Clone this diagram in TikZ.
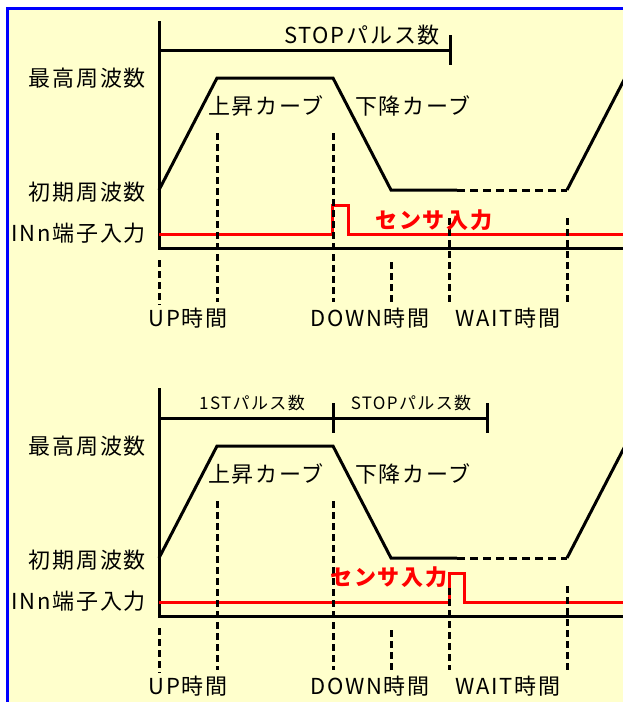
\documentclass[tikz,border=0pt]{standalone}
\usepackage{fontspec}
\setmainfont[LetterSpace=8]{Noto Sans CJK JP}
\definecolor{bgyellow}{HTML}{FFFFCC}
\begin{document}
\begin{tikzpicture}[x=1pt,y=-1pt,
  lbl/.style={font=\fontsize{22}{25}\selectfont, inner sep=0pt},
  small/.style={font=\fontsize{17}{20}\selectfont, inner sep=0pt},
  sens/.style={font=\fontsize{22}{25}\selectfont\bfseries, text=red, inner sep=0pt},
  wave/.style={line width=3pt, line join=miter},
  axisline/.style={line width=3pt, line join=miter},
  guide/.style={line width=3pt, dash pattern=on 7pt off 4pt},
  flatdash/.style={line width=3pt, dash pattern=on 8pt off 5pt},
  sig/.style={line width=3pt, red, line join=miter},
]
\path[use as bounding box] (0,0) rectangle (623,702);
\clip (0,0) rectangle (623,702);
\fill[bgyellow] (7,8.5) rectangle (640,720);
\draw[blue, line width=3pt] (7,720) -- (7,8.5) -- (640,8.5);

% ---------- top diagram ----------
\begin{scope}
  \coordinate (ta0) at (159,190);
  \coordinate (ta1) at (217,78);
  \coordinate (ta2) at (333,78);
  \coordinate (ta3) at (391,190);
  \coordinate (ta4) at (457,190);
  \coordinate (ta5) at (567,190);
  \coordinate (ta6) at (625,78);
  \coordinate (tax) at (159,21);
  \coordinate (tao) at (159,248);
  \coordinate (tae) at (640,248);
  \draw[axisline] (tax) -- (tao) -- (tae);
  \draw[axisline] (159,50) -- (450,50);
  \draw[axisline] (450,35) -- (450,65);
  \draw[wave] (ta0) -- (ta1) -- (ta2) -- (ta3) -- (ta4);
  \draw[flatdash] (ta4) -- (ta5);
  \draw[wave] (ta5) -- (ta6);
  \draw[sig] (159,234) -- (332,234) -- (332,205) -- (348,205) -- (348,234) -- (640,234);
  \draw[guide] (217,133) -- (217,302);
  \draw[guide] (159,260) -- (159,305);
  \draw[guide] (333,133) -- (333,302);
  \draw[guide] (391,262) -- (391,305);
  \draw[guide] (449,218) -- (449,302);
  \draw[guide] (567,218) -- (567,302);
  \node[lbl] (tstop) at (362,35) {STOPパルス数};
  \node[lbl, anchor=east] (tmax) at (146,78) {最高周波数};
  \node[lbl, anchor=east] (tini) at (146,192) {初期周波数};
  \node[lbl, anchor=east] (tin) at (146,233) {INn端子入力};
  \node[lbl, anchor=west] (tup) at (208,106) {上昇カーブ};
  \node[lbl, anchor=west] (tdn) at (355,106) {下降カーブ};
  \node[sens] (tsen) at (434,220) {センサ入力};
  \node[lbl] (tupt) at (188,318) {UP時間};
  \node[lbl] (tdnt) at (370,318) {DOWN時間};
  \node[lbl] (twt) at (508,318) {WAIT時間};
\end{scope}

% ---------- bottom diagram ----------
\begin{scope}[yshift=-368pt]
  \coordinate (ba0) at (159,190);
  \coordinate (ba1) at (217,78);
  \coordinate (ba2) at (333,78);
  \coordinate (ba3) at (391,190);
  \coordinate (ba4) at (457,190);
  \coordinate (ba5) at (567,190);
  \coordinate (ba6) at (625,78);
  \coordinate (bax) at (159,20);
  \coordinate (bao) at (159,248);
  \coordinate (bae) at (640,248);
  \draw[axisline] (bax) -- (bao) -- (bae);
  \draw[axisline] (159,50) -- (487,50);
  \draw[axisline] (333,35) -- (333,65);
  \draw[axisline] (487,35) -- (487,65);
  \draw[wave] (ba0) -- (ba1) -- (ba2) -- (ba3) -- (ba4);
  \draw[flatdash] (ba4) -- (ba5);
  \draw[wave] (ba5) -- (ba6);
  \draw[sig] (159,234) -- (449,234) -- (449,205) -- (464,205) -- (464,234) -- (640,234);
  \draw[guide] (217,133) -- (217,302);
  \draw[guide] (159,260) -- (159,305);
  \draw[guide] (333,133) -- (333,302);
  \draw[guide] (391,262) -- (391,305);
  \draw[guide] (449,220) -- (449,302);
  \draw[guide] (567,218) -- (567,302);
  \node[small] (b1st) at (252,35) {1STパルス数};
  \node[small] (bstop) at (411,35) {STOPパルス数};
  \node[lbl, anchor=east] (bmax) at (146,78) {最高周波数};
  \node[lbl, anchor=east] (bini) at (146,192) {初期周波数};
  \node[lbl, anchor=east] (bin) at (146,233) {INn端子入力};
  \node[lbl, anchor=west] (bup) at (208,106) {上昇カーブ};
  \node[lbl, anchor=west] (bdn) at (355,106) {下降カーブ};
  \node[sens] (bsen) at (389,209) {センサ入力};
  \node[lbl] (bupt) at (188,318) {UP時間};
  \node[lbl] (bdnt) at (370,318) {DOWN時間};
  \node[lbl] (bwt) at (508,318) {WAIT時間};
\end{scope}
\end{tikzpicture}
\end{document}
